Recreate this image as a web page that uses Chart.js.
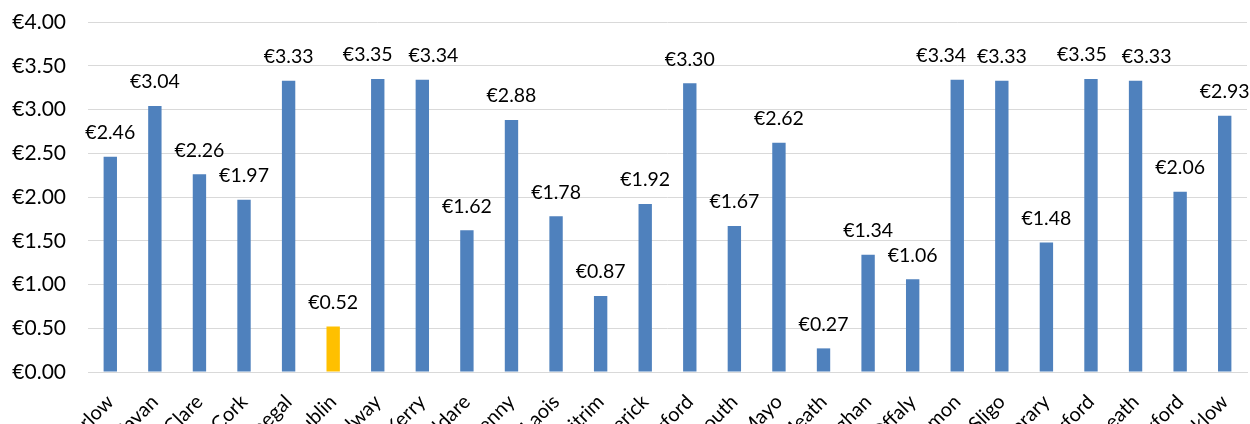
<!DOCTYPE html>
<html>
<head>
<meta charset="utf-8">
<script src="https://cdn.jsdelivr.net/npm/chart.js@4/dist/chart.umd.min.js"></script>
<style>
  html, body { margin: 0; padding: 0; background: #fff; overflow: hidden; }
  #wrap { width: 1250px; height: 424px; position: relative; }
</style>
</head>
<body>
<div id="wrap"><canvas id="chart"></canvas></div>
<script>
const counties = ['Carlow', 'Cavan', 'Clare', 'Cork', 'Donegal', 'Dublin', 'Galway', 'Kerry', 'Kildare',
    'Kilkenny', 'Laois', 'Leitrim', 'Limerick', 'Longford', 'Louth', 'Mayo', 'Meath', 'Monaghan', 'Offaly',
    'Roscommon', 'Sligo', 'Tipperary', 'Waterford', 'Westmeath', 'Wexford', 'Wicklow'];
const values = [2.46, 3.04, 2.26, 1.97, 3.33, 0.52, 3.35, 3.34, 1.62, 2.88, 1.78, 0.87, 1.92,
    3.30, 1.67, 2.62, 0.27, 1.34, 1.06, 3.34, 3.33, 1.48, 3.35, 3.33, 2.06, 2.93];
const highlight = 'Dublin';

const FONT = 'Lato, "Open Sans", sans-serif';
const euro = (v) => '€' + Number(v).toFixed(2);

// Nudge crowded labels sideways so neighbours don't collide (like Excel does).
const labelNudge = { Galway: -10, Kerry: 11, Roscommon: -16, Waterford: -9, Westmeath: 11 };

const barLabels = {
    id: 'barLabels',
    afterDatasetsDraw(chart) {
        const { ctx } = chart;
        const meta = chart.getDatasetMeta(0);
        ctx.save();
        ctx.font = '19.5px ' + FONT;
        ctx.fillStyle = '#000';
        ctx.textAlign = 'center';
        ctx.textBaseline = 'middle';
        meta.data.forEach((bar, i) => {
            const dx = labelNudge[counties[i]] || 0;
            ctx.fillText(euro(values[i]), bar.x + dx, bar.y - 24);
        });
        ctx.restore();
    },
};

new Chart(document.getElementById('chart'), {
    type: 'bar',
    data: {
        labels: counties,
        datasets: [{
            data: values,
            backgroundColor: counties.map((c) => (c === highlight ? '#FFC000' : '#4F81BD')),
            borderWidth: 0,
            barPercentage: 0.6,
            categoryPercentage: 0.5,
        }],
    },
    options: {
        responsive: true,
        maintainAspectRatio: false,
        animation: false,
        layout: { padding: { top: 22, right: 3, left: 0, bottom: 0 } },
        scales: {
            x: {
                grid: { display: false, drawTicks: false },
                border: { display: true, color: '#d9d9d9', width: 1 },
                ticks: {
                    minRotation: 45,
                    maxRotation: 45,
                    autoSkip: false,
                    padding: 18,
                    color: '#000',
                    font: { family: FONT, size: 20 },
                },
                afterFit(scale) {
                    scale.height = 52;
                    scale.paddingLeft = 0;
                    scale.paddingRight = 0;
                },
            },
            y: {
                min: 0,
                max: 4,
                ticks: {
                    stepSize: 0.5,
                    padding: 22,
                    color: '#000',
                    font: { family: FONT, size: 21 },
                    callback: (v) => euro(v),
                },
                grid: { color: '#d9d9d9', lineWidth: 1, drawTicks: false },
                border: { display: false },
                afterFit(scale) {
                    scale.width = 88;
                    scale.paddingTop = 0;
                    scale.paddingBottom = 0;
                },
            },
        },
        plugins: {
            legend: { display: false },
            tooltip: { enabled: false },
        },
    },
    plugins: [barLabels],
});
</script>
</body>
</html>
